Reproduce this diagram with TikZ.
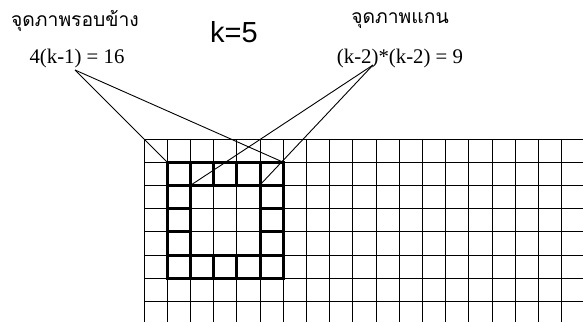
\documentclass[tikz,border=0pt]{standalone}
\usepackage{fontspec}
\setmainfont{Liberation Serif}
\newfontfamily\thaifont[Script=Thai]{Loma}
\newfontfamily\arialfont{Liberation Sans}
\usetikzlibrary{positioning}
\tikzset{
  gridln/.style={draw=black,line width=0.9pt},
  ringbox/.style={draw=black,line width=3pt},
  ptr/.style={draw=black,line width=0.9pt},
  thailbl/.style={inner sep=0pt,font=\thaifont\fontsize{19.3}{20}\selectfont},
  formula/.style={inner sep=0pt,font=\fontsize{20.8}{21}\selectfont},
}

\begin{document}
\begin{tikzpicture}[x=1pt,y=-1pt]
\useasboundingbox (0,0) rectangle (583,322);

\node[thailbl] (edgetxt) at (75,21) {จุดภาพรอบข้าง};
\node[formula] (edgeval) at (77,58) {4(k-1) = 16};
\node[inner sep=0pt,font=\arialfont\fontsize{29}{30}\selectfont] (kval) at (234,32) {k=5};
\node[thailbl] (coretxt) at (400,21) {จุดภาพแกน};
\node[formula] (coreval) at (400,58) {(k-2)*(k-2) = 9};

\foreach \i in {0,...,18}
  \draw[gridln] ({144+23.2*\i},139) -- ({144+23.2*\i},322);
\foreach \j in {0,...,7}
  \draw[gridln] (144,{139+23.2*\j}) -- (583,{139+23.2*\j});

\foreach \i/\j in {1/1,2/1,3/1,4/1,5/1,1/5,2/5,3/5,4/5,5/5,1/2,1/3,1/4,5/2,5/3,5/4}
  \draw[ringbox] ({144+23.2*\i},{139+23.2*\j}) rectangle +(23.2,23.2);

\coordinate (edgetip) at (75,70);
\coordinate (coretip) at (373,65);
\coordinate (outerNW) at (167.2,162.2);
\coordinate (outerNE) at (283.2,162.2);
\coordinate (innerNW) at (190.4,185.4);
\coordinate (innerNE) at (259.6,185.4);

\draw[ptr] (edgetip) -- (outerNW);
\draw[ptr] (edgetip) -- (outerNE);
\draw[ptr] (coretip) -- (innerNW);
\draw[ptr] (coretip) -- (innerNE);
\end{tikzpicture}
\end{document}
